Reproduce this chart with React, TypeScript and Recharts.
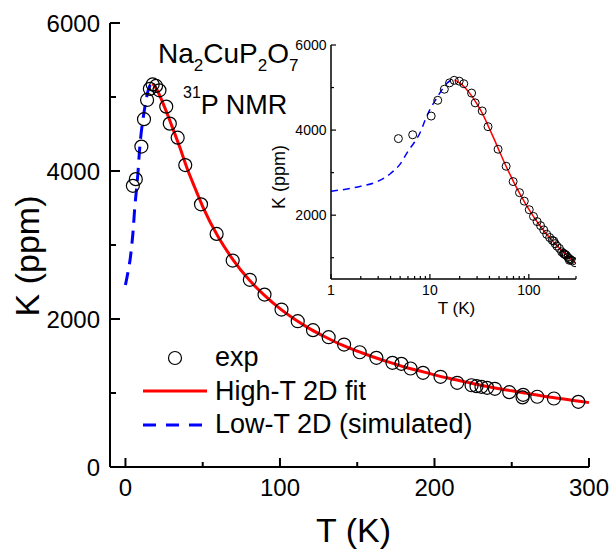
import { ComposedChart, Legend, Line, Scatter, XAxis, YAxis } from "recharts";

// measured Knight shift, 31P NMR
const EXP_T = [
  4.8, 6.7, 10.3, 12, 14, 15.8, 17.6, 19.8, 22, 26.4, 28.7, 33.8, 38.7, 48.9,
  59, 69.4, 80.5, 90, 101, 111.5, 121.4, 131.5, 141.5, 151.6, 162.4, 172.8,
  178.6, 184.5, 192.6, 203.9, 214.7, 224, 227.2, 230.4, 234.1, 239.1, 248.4,
  257.4, 257, 266.5, 277.3, 293.1,
];
const EXP_K = [
  3800, 3890, 4330, 4700, 4960, 5110, 5170, 5150, 5090, 4870, 4640, 4450,
  4080, 3550, 3150, 2790, 2530, 2330, 2128, 1970, 1849, 1754, 1655, 1551,
  1475, 1408, 1394, 1331, 1273, 1219, 1138, 1105, 1092, 1084, 1070, 1057,
  1011, 975, 940, 949, 926, 881,
];

// high-T 2D fit (red)
const FIT_T = [
  17.7, 20, 25, 30, 35, 40, 45, 50, 60, 70, 80, 90, 100, 110, 120, 130, 140,
  150, 160, 170, 180, 190, 200, 210, 220, 230, 240, 250, 260, 270, 280, 290,
  300,
];
const FIT_K = [
  5180, 5110, 4880, 4610, 4330, 4030, 3770, 3520, 3110, 2790, 2530, 2320,
  2140, 1990, 1860, 1750, 1650, 1565, 1490, 1420, 1355, 1300, 1245, 1195,
  1150, 1105, 1065, 1030, 995, 960, 930, 900, 870,
];

// low-T 2D simulation (blue dashed)
const SIM_T = [0, 1, 1.5, 2, 3, 4, 5, 6, 7, 8, 9, 10, 11, 12, 13, 14, 15, 16, 17, 17.7];
const SIM_K = [
  2460, 2565, 2620, 2680, 2800, 2980, 3200, 3500, 3720, 3950, 4250, 4480,
  4650, 4790, 4920, 5030, 5110, 5160, 5185, 5180,
];

const SERIES_NAMES = ["exp", "High-T 2D fit", "Low-T 2D (simulated)"];

const MAIN_X_TICKS = [0, 50, 100, 150, 200, 250, 300];
const MAIN_X_LABELS = [0, 100, 200, 300];
const MAIN_Y_TICKS = [0, 1000, 2000, 3000, 4000, 5000, 6000];
const MAIN_Y_LABELS = [0, 2000, 4000, 6000];

const INSET_X_TICKS = [
  1, 2, 3, 4, 5, 6, 7, 8, 9, 10, 20, 30, 40, 50, 60, 70, 80, 90, 100, 200, 300,
];
const INSET_X_LABELS = [1, 10, 100];
const INSET_Y_TICKS = [1000, 2000, 3000, 4000, 5000, 6000];
const INSET_Y_LABELS = [2000, 4000, 6000];

const FONT = '"Liberation Sans", Arial, sans-serif';

const zip = (xs: number[], ys: number[]) => xs.map((T, i) => ({ T, K: ys[i] }));
const expData = zip(EXP_T, EXP_K);
const fitData = zip(FIT_T, FIT_K);
const simData = zip(SIM_T, SIM_K);
const simInset = simData.filter((d) => d.T >= 1);

interface TickOpts {
  labels: number[];
  major: number;
  minor: number;
  fontSize: number;
  gap: number;
  width: number;
}

function bottomTick(o: TickOpts) {
  return (props: any) => {
    const { x, y, payload } = props;
    const isMajor = o.labels.includes(payload.value);
    return (
      <g>
        <line x1={x} y1={y} x2={x} y2={y - (isMajor ? o.major : o.minor)} stroke="#000" strokeWidth={o.width} />
        {isMajor && (
          <text x={x} y={y + o.gap} textAnchor="middle" fontSize={o.fontSize} fontFamily={FONT} fill="#000">
            {payload.value}
          </text>
        )}
      </g>
    );
  };
}

function leftTick(o: TickOpts) {
  return (props: any) => {
    const { x, y, payload } = props;
    const isMajor = o.labels.includes(payload.value);
    return (
      <g>
        <line x1={x} y1={y} x2={x + (isMajor ? o.major : o.minor)} y2={y} stroke="#000" strokeWidth={o.width} />
        {isMajor && (
          <text x={x - o.gap} y={y + o.fontSize * 0.36} textAnchor="end" fontSize={o.fontSize} fontFamily={FONT} fill="#000">
            {payload.value}
          </text>
        )}
      </g>
    );
  };
}

const LEGEND_ITEMS: Record<string, { kind: string; color: string; dash?: string }> = {
  exp: { kind: "circle", color: "#000" },
  "High-T 2D fit": { kind: "line", color: "#ff0000" },
  "Low-T 2D (simulated)": { kind: "line", color: "#0000ff", dash: "13 10" },
};

function LegendBox(props: any) {
  const items = [...((props.payload || []) as any[])].sort(
    (a, b) => SERIES_NAMES.indexOf(a.value) - SERIES_NAMES.indexOf(b.value)
  );
  return (
    <div style={{ fontFamily: FONT, fontSize: 27, color: "#000", whiteSpace: "nowrap" }}>
      {items.map((it) => {
        const st = LEGEND_ITEMS[it.value] || { kind: "line", color: it.color };
        return (
          <div key={it.value} style={{ display: "flex", alignItems: "center", height: 33.5 }}>
            <svg width={64} height={20} style={{ marginRight: 8, flex: "none" }}>
              {st.kind === "circle" ? (
                <circle cx={32} cy={10} r={6.5} fill="none" stroke="#000" strokeWidth={1.2} />
              ) : (
                <line x1={0} y1={10} x2={64} y2={10} stroke={st.color} strokeWidth={3} strokeDasharray={st.dash} />
              )}
            </svg>
            <span style={{ lineHeight: "33.5px" }}>{it.value}</span>
          </div>
        );
      })}
    </div>
  );
}

const mainCircle = (p: any) => (
  <circle cx={p.cx} cy={p.cy} r={6.5} fill="none" stroke="#000" strokeWidth={1.2} />
);
const insetCircle = (p: any) => (
  <circle cx={p.cx} cy={p.cy} r={4} fill="none" stroke="#000" strokeWidth={1} />
);

function MainChart() {
  return (
    <ComposedChart width={616} height={557} margin={{ top: 23, right: 27, bottom: 0, left: 0 }}>
      <XAxis
        xAxisId="b"
        dataKey="T"
        type="number"
        domain={[-10, 300]}
        ticks={MAIN_X_TICKS}
        interval={0}
        height={90}
        tickSize={0}
        tickMargin={0}
        tickLine={false}
        axisLine={{ stroke: "#000", strokeWidth: 2 }}
        tick={bottomTick({ labels: MAIN_X_LABELS, major: 9, minor: 5, fontSize: 24, gap: 29, width: 2 })}
        label={{
          content: ({ viewBox }: any) => (
            <text x={viewBox.x + viewBox.width / 2 + 4} y={viewBox.y + 75} textAnchor="middle" fontSize={34} fontFamily={FONT} fill="#000">
              T (K)
            </text>
          ),
        }}
      />
      <XAxis xAxisId="t" orientation="top" type="number" domain={[-10, 300]} height={0} tick={false} tickLine={false} axisLine={{ stroke: "#000", strokeWidth: 2 }} />
      <YAxis
        yAxisId="l"
        dataKey="K"
        type="number"
        domain={[0, 6000]}
        ticks={MAIN_Y_TICKS}
        interval={0}
        width={110}
        tickSize={0}
        tickMargin={0}
        tickLine={false}
        axisLine={{ stroke: "#000", strokeWidth: 2 }}
        tick={leftTick({ labels: MAIN_Y_LABELS, major: 10, minor: 6, fontSize: 24, gap: 10, width: 2 })}
        label={{
          content: ({ viewBox }: any) => {
            const cx = viewBox.x + 39;
            const cy = viewBox.y + viewBox.height / 2 + 11;
            return (
              <text x={cx} y={cy} transform={`rotate(-90, ${cx}, ${cy})`} textAnchor="middle" fontSize={34} fontFamily={FONT} fill="#000">
                K (ppm)
              </text>
            );
          },
        }}
      />
      <YAxis yAxisId="r" orientation="right" type="number" domain={[0, 6000]} width={0} tick={false} tickLine={false} axisLine={{ stroke: "#000", strokeWidth: 2 }} />
      <Scatter name={SERIES_NAMES[0]} data={expData} xAxisId="b" yAxisId="l" shape={mainCircle} isAnimationActive={false} />
      <Line name={SERIES_NAMES[1]} data={fitData} dataKey="K" xAxisId="b" yAxisId="l" type="monotone" stroke="#ff0000" strokeWidth={3} dot={false} isAnimationActive={false} />
      <Line name={SERIES_NAMES[2]} data={simData} dataKey="K" xAxisId="b" yAxisId="l" type="monotone" stroke="#0000ff" strokeWidth={3} strokeDasharray="13 8" dot={false} isAnimationActive={false} />
      <Legend layout="vertical" align="center" verticalAlign="middle" wrapperStyle={{ left: 143, top: 341, width: 420 }} content={LegendBox} />
    </ComposedChart>
  );
}

function InsetChart() {
  return (
    <ComposedChart width={330} height={300} margin={{ top: 15, right: 14, bottom: 0, left: 0 }}>
      <XAxis
        xAxisId="b"
        dataKey="T"
        type="number"
        scale="log"
        domain={[1, 300]}
        allowDataOverflow
        ticks={INSET_X_TICKS}
        interval={0}
        height={51}
        tickSize={0}
        tickMargin={0}
        tickLine={false}
        axisLine={{ stroke: "#000", strokeWidth: 1.5 }}
        tick={bottomTick({ labels: INSET_X_LABELS, major: 5, minor: 3, fontSize: 14, gap: 16, width: 1.2 })}
        label={{
          content: ({ viewBox }: any) => (
            <text x={viewBox.x + viewBox.width / 2 + 3} y={viewBox.y + 35} textAnchor="middle" fontSize={17} fontFamily={FONT} fill="#000">
              T (K)
            </text>
          ),
        }}
      />
      <XAxis xAxisId="t" orientation="top" type="number" scale="log" domain={[1, 300]} height={0} tick={false} tickLine={false} axisLine={{ stroke: "#000", strokeWidth: 1.5 }} />
      <YAxis
        yAxisId="l"
        dataKey="K"
        type="number"
        domain={[500, 6000]}
        allowDataOverflow
        ticks={INSET_Y_TICKS}
        interval={0}
        width={71}
        tickSize={0}
        tickMargin={0}
        tickLine={false}
        axisLine={{ stroke: "#000", strokeWidth: 1.5 }}
        tick={leftTick({ labels: INSET_Y_LABELS, major: 5, minor: 3, fontSize: 14, gap: 4.5, width: 1.2 })}
        label={{
          content: ({ viewBox }: any) => {
            const cx = viewBox.x + 25;
            const cy = 147;
            return (
              <text x={cx} y={cy} transform={`rotate(-90, ${cx}, ${cy})`} textAnchor="middle" fontSize={18} fontFamily={FONT} fill="#000">
                K (ppm)
              </text>
            );
          },
        }}
      />
      <YAxis yAxisId="r" orientation="right" type="number" domain={[500, 6000]} width={0} tick={false} tickLine={false} axisLine={{ stroke: "#000", strokeWidth: 1.5 }} />
      <Scatter name="exp" data={expData} xAxisId="b" yAxisId="l" shape={insetCircle} isAnimationActive={false} />
      <Line data={fitData} dataKey="K" xAxisId="b" yAxisId="l" type="monotone" stroke="#ff0000" strokeWidth={1.5} dot={false} isAnimationActive={false} />
      <Line data={simInset} dataKey="K" xAxisId="b" yAxisId="l" type="monotone" stroke="#0000ff" strokeWidth={1.5} strokeDasharray="7 5" dot={false} isAnimationActive={false} />
    </ComposedChart>
  );
}

export default function App() {
  return (
    <div style={{ position: "absolute", left: 0, top: 0, width: 616, height: 557, background: "#fff" }}>
      <MainChart />
      <div style={{ position: "absolute", left: 260, top: 30 }}>
        <InsetChart />
      </div>
      <svg width={616} height={557} style={{ position: "absolute", left: 0, top: 0, pointerEvents: "none" }}>
        <text x={158} y={63} fontSize={28} fontFamily={FONT} fill="#000">
          Na<tspan fontSize={17} dy={8}>2</tspan>
          <tspan fontSize={28} dy={-8}>CuP</tspan>
          <tspan fontSize={17} dy={8}>2</tspan>
          <tspan fontSize={28} dy={-8}>O</tspan>
          <tspan fontSize={17} dy={8}>7</tspan>
        </text>
        <text x={183} y={114} fontFamily={FONT} fill="#000">
          <tspan fontSize={16} dy={-16}>31</tspan>
          <tspan fontSize={27} dy={16}>P NMR</tspan>
        </text>
      </svg>
    </div>
  );
}
